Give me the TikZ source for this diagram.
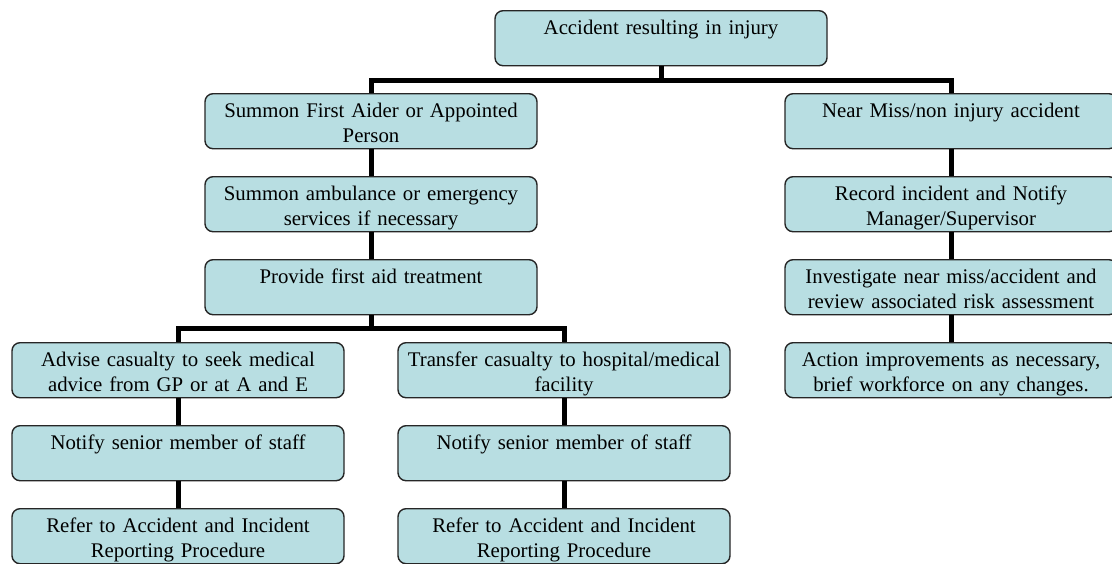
\documentclass[tikz,border=0pt]{standalone}
\usepackage{fontspec}
\setmainfont{Liberation Serif}
\definecolor{boxfill}{RGB}{184,222,226}
\newcommand{\bxt}[2]{\rule{0pt}{24pt}#1\\#2\rule[-6pt]{0pt}{6pt}}
\tikzset{
  flowbox/.style={draw=black!85, line width=1.4pt, fill=boxfill, rounded corners=8pt,
    minimum width=332pt, minimum height=55pt, text width=330pt, inner xsep=1pt, inner ysep=0pt,
    align=center, anchor=north, font=\fontsize{20.8}{25}\selectfont},
  conn/.style={line width=5pt, black}
}
\begin{document}
\begin{tikzpicture}[x=1pt,y=-1pt]
\useasboundingbox (0,0) rectangle (1112,563);
\fill[white] (0,0) rectangle (1112,563);
\coordinate (bar1) at (0,80);
\coordinate (bar2) at (0,328);
\path (661,10) node[flowbox] (top) {\bxt{Accident resulting in injury}{}}
      (371,93) node[flowbox] (s1) {\bxt{Summon First Aider or Appointed}{Person}}
      (371,176) node[flowbox] (s2) {\bxt{Summon ambulance or emergency}{services if necessary}}
      (371,259) node[flowbox] (s3) {\bxt{Provide first aid treatment}{}}
      (178,342) node[flowbox] (a1) {\bxt{Advise casualty to seek medical}{advice from GP or at A and E}}
      (178,425) node[flowbox] (a2) {\bxt{Notify senior member of staff}{}}
      (178,508) node[flowbox] (a3) {\bxt{Refer to Accident and Incident}{Reporting Procedure}}
      (564,342) node[flowbox] (t1) {\bxt{Transfer casualty to hospital/medical}{facility}}
      (564,425) node[flowbox] (t2) {\bxt{Notify senior member of staff}{}}
      (564,508) node[flowbox] (t3) {\bxt{Refer to Accident and Incident}{Reporting Procedure}}
      (951,93) node[flowbox] (n1) {\bxt{Near Miss/non injury accident}{}}
      (951,176) node[flowbox] (n2) {\bxt{Record incident and Notify}{Manager/Supervisor}}
      (951,259) node[flowbox] (n3) {\bxt{Investigate near miss/accident and}{review associated risk assessment}}
      (951,342) node[flowbox] (n4) {\bxt{Action improvements as necessary,}{brief workforce on any changes.}};
% tree connectors
\draw[conn] (top.south) -- (top.south |- bar1);
\draw[conn] (s1.north) -- (s1.north |- bar1) -- (n1.north |- bar1) -- (n1.north);
\draw[conn] (s3.south) -- (s3.south |- bar2);
\draw[conn] (a1.north) -- (a1.north |- bar2) -- (t1.north |- bar2) -- (t1.north);
% column connectors
\draw[conn] (s1.south) -- (s2.north);
\draw[conn] (s2.south) -- (s3.north);
\draw[conn] (a1.south) -- (a2.north);
\draw[conn] (a2.south) -- (a3.north);
\draw[conn] (t1.south) -- (t2.north);
\draw[conn] (t2.south) -- (t3.north);
\draw[conn] (n1.south) -- (n2.north);
\draw[conn] (n2.south) -- (n3.north);
\draw[conn] (n3.south) -- (n4.north);
\end{tikzpicture}
\end{document}
